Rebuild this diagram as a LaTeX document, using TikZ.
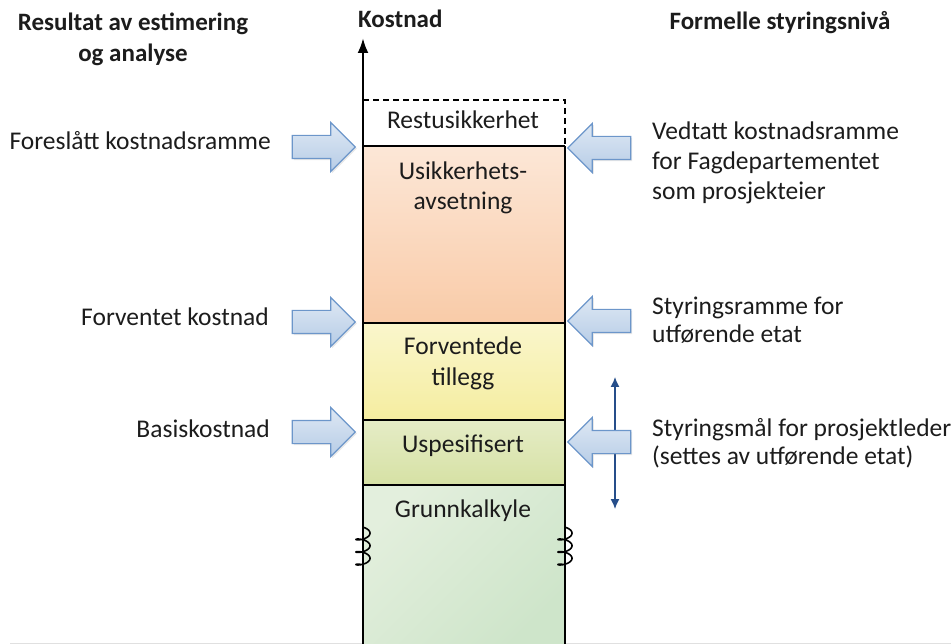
\documentclass[tikz,border=0pt]{standalone}
\usepackage{fontspec}
\setmainfont{Carlito}
\usetikzlibrary{shapes.arrows,arrows.meta,shadows}

\definecolor{txt}{RGB}{28,28,28}
\definecolor{arrowtop}{RGB}{222,232,244}
\definecolor{arrowbot}{RGB}{182,204,230}
\definecolor{arrowline}{RGB}{108,150,202}
\definecolor{darkblue}{RGB}{38,78,138}
\definecolor{peachtop}{RGB}{252,231,215}
\definecolor{peachbot}{RGB}{249,203,168}
\definecolor{yellowtop}{RGB}{250,246,204}
\definecolor{yellowbot}{RGB}{245,237,160}
\definecolor{olivetop}{RGB}{229,236,198}
\definecolor{olivebot}{RGB}{214,225,164}
\definecolor{greentop}{RGB}{227,239,221}
\definecolor{greenbot}{RGB}{206,229,202}

\tikzset{
  lbl/.style={font=\fontsize{25.5}{30}\selectfont, text=txt, inner sep=0pt},
  head/.style={lbl, font=\fontsize{25}{30}\selectfont\bfseries},
  blockarrow/.style={single arrow, draw=arrowline, line width=1.2pt,
    top color=arrowtop, bottom color=arrowbot,
    minimum height=63pt, inner xsep=0pt, inner ysep=11pt,
    single arrow head extend=13pt, single arrow tip angle=90,
    drop shadow={opacity=0.18, shadow xshift=1.5pt, shadow yshift=-1.5pt}},
  leftpointing/.style={blockarrow, shape border rotate=180},
  border/.style={line width=2.6pt, black},
  squiggle/.style={line width=1.6pt, black, line cap=round}
}

\begin{document}
\begin{tikzpicture}[x=1pt,y=-1pt]
\useasboundingbox (0,0) rectangle (951,644);

% faint base line
\draw[black!12, line width=1pt] (10,643) -- (951,643);

% cost bands
\shade[top color=peachtop, bottom color=peachbot] (363,146) rectangle (565,323);
\shade[top color=yellowtop, bottom color=yellowbot] (363,323) rectangle (565,420);
\shade[top color=olivetop, bottom color=olivebot] (363,420) rectangle (565,485);
\shade[top color=greentop, bottom color=greenbot, shading angle=45] (363,485) rectangle (565,644);

% band outlines
\draw[border, dash pattern=on 6pt off 4pt, line width=2.2pt] (363,100) -- (565,100) -- (565,146);
\draw[border] (565,146) -- (565,644);
\draw[border] (363,146) -- (565,146);
\draw[border] (363,323) -- (565,323);
\draw[border] (363,420) -- (565,420);
\draw[border] (363,485) -- (565,485);

% cost axis
\coordinate (axbot) at (363,644);
\coordinate (axtop) at (363,38);
\draw[border, -{Latex[length=15pt,width=11pt]}] (axbot) -- (axtop);

% break marks (small curls across both sides)
\draw[squiggle] plot[domain=0:18.85, samples=120, smooth, variable=\t]
  ({363+7*sin(\t r)}, {530+2*\t-2.8*cos(\t r)});
\draw[squiggle] plot[domain=0:18.85, samples=120, smooth, variable=\t]
  ({565+7*sin(\t r)}, {530+2*\t-2.8*cos(\t r)});

% band labels
\node[lbl, anchor=base] (rest) at (463,129) {Restusikkerhet};
\node[lbl, anchor=base] (usik1) at (463,180) {Usikkerhets-};
\node[lbl, anchor=base] (usik2) at (463,210) {avsetning};
\node[lbl, anchor=base] (forv1) at (463,355) {Forventede};
\node[lbl, anchor=base] (forv2) at (463,385) {tillegg};
\node[lbl, anchor=base] (usp) at (463,452) {Uspesifisert};
\node[lbl, anchor=base] (grunn) at (463,517) {Grunnkalkyle};

% headings
\node[head, anchor=base] (h1) at (133,31) {Resultat av estimering};
\node[head, anchor=base] (h2) at (133,62) {og analyse};
\node[head, anchor=base west] (h3) at (358,28) {Kostnad};
\node[head, anchor=base] (h4) at (780,30) {Formelle styringsnivå};

% range of the project manager target
\coordinate (vt) at (615,377);
\coordinate (vb) at (615,509);
\draw[darkblue, line width=1.3pt, {Latex[length=10pt,width=9pt]}-{Latex[length=10pt,width=9pt]}] (vt) -- (vb);

% block arrows, estimation side
\node[blockarrow] (la1) at (318,147) {};
\node[blockarrow] (la2) at (318,322) {};
\node[blockarrow] (la3) at (318,432) {};

% block arrows, governance side
\node[leftpointing] (ra1) at (605,148) {};
\node[leftpointing] (ra2) at (605,321) {};
\node[leftpointing] (ra3) at (605,442) {};

% estimation labels
\node[lbl, anchor=base east] (l1) at (271,150) {Foreslått kostnadsramme};
\node[lbl, anchor=base east] (l2) at (269,326) {Forventet kostnad};
\node[lbl, anchor=base east] (l3) at (270,437) {Basiskostnad};

% governance labels
\node[lbl, anchor=base west] (r1a) at (652,140) {Vedtatt kostnadsramme};
\node[lbl, anchor=base west] (r1b) at (652,170) {for Fagdepartementet};
\node[lbl, anchor=base west] (r1c) at (652,200) {som prosjekteier};
\node[lbl, anchor=base west] (r2a) at (652,315) {Styringsramme for};
\node[lbl, anchor=base west] (r2b) at (652,343) {utførende etat};
\node[lbl, anchor=base west] (r3a) at (652,436) {Styringsmål for prosjektleder};
\node[lbl, anchor=base west] (r3b) at (652,464) {(settes av utførende etat)};
\end{tikzpicture}
\end{document}
